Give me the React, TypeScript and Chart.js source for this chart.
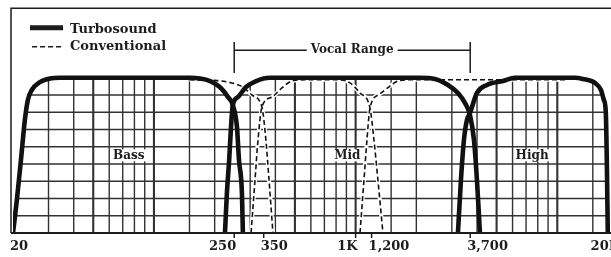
import React, { useEffect, useRef } from 'react';
import { Chart, registerables } from 'chart.js';
Chart.register(...registerables);

// Turbosound band responses (frequency Hz, relative level)
const bassFreq = [20, 20.9, 21.9, 22.9, 23.7, 24.8, 27.2, 30.5, 34.2, 151, 169, 190, 212, 233, 246, 258, 264, 273, 276];
const bassLevel = [0, 1.91, 4.23, 6.55, 7.71, 8.29, 8.75, 8.96, 9, 9, 8.96, 8.81, 8.46, 7.88, 7.42, 6.14, 4.23, 2.32, 0];
const midFreq = [225, 230, 236, 241, 246, 261, 286, 321, 376, 2084, 2474, 2870, 3216, 3484, 3690, 3862, 3996, 4134];
const midLevel = [0, 2.32, 4.23, 6.14, 7.42, 7.88, 8.46, 8.81, 9, 9, 8.93, 8.58, 8.12, 7.54, 6.84, 5.39, 3.07, 0];
const highFreq = [3216, 3328, 3444, 3564, 3690, 3996, 4478, 5376, 6166, 12230, 13398, 15370, 16460, 17020, 17400, 17600, 17800];
const highLevel = [0, 3.07, 5.39, 6.55, 6.96, 8.12, 8.58, 8.81, 9, 9, 8.93, 8.7, 8.29, 7.71, 7.0, 4.2, 0];

// Conventional crossover responses
const convBassFreq = [150, 200, 238, 276, 306, 343, 359, 372, 389];
const convBassLevel = [8.88, 8.85, 8.72, 8.46, 8.0, 7.3, 5.39, 3.07, 0];
const convMidFreq = [303, 317, 328, 343, 385, 431, 483, 561, 836, 937, 1051, 1178, 1233, 1290, 1366];
const convMidLevel = [0, 3.07, 5.39, 7.3, 7.88, 8.41, 8.81, 8.88, 8.88, 8.7, 8.12, 7.25, 5.39, 3.07, 0];
const convHighFreq = [1051, 1100, 1138, 1178, 1320, 1480, 1622, 1859, 11000];
const convHighLevel = [0, 3.07, 5.39, 7.25, 8.06, 8.52, 8.81, 8.88, 8.88];

// Axis ticks
const tickFreqs = [20, 250, 350, 1000, 1200, 3700, 20000];
const tickLabels = ['20', '250', '350', '1K', '1,200', '3,700', '20K'];
const tickAlign: CanvasTextAlign[] = ['left', 'right', 'left', 'right', 'left', 'left', 'right'];
const tickMarked = [false, true, true, true, true, true, false];

// Grid
const gridFreqs = [30, 40, 50, 60, 70, 80, 90, 100, 150, 200, 300, 400, 500, 600, 700, 800, 900, 1000, 1500, 2000, 3000, 4000, 5000, 6000, 7000, 8000, 9000, 10000, 15000];
const majorGridFreqs = [50, 100, 500, 1000, 5000, 10000];
const gridLevels = [1, 2, 3, 4, 5, 6, 7, 8];

// Band labels
const bandNames = ['Bass', 'Mid', 'High'];
const bandFreqs = [75, 910, 7500];
const bandLevel = 4.5;

// Vocal range bracket
const vocalRange = [250, 3700];
const vocalLabel = 'Vocal Range';
const vocalBarLevels = [9.28, 11.07];
const vocalLineLevel = 10.6;

// Legend
const legendNames = ['Turbosound', 'Conventional'];

const FONT = "'DejaVu Serif', serif";
const INK = '#1c1c1c';

const pts = (xs: number[], ys: number[]) => xs.map((x, i) => ({ x, y: ys[i] }));

const turboIdx = [3, 4, 5];

const decorPlugin = {
  id: 'decor',
  beforeDraw(chart: any) {
    const { ctx, width, height } = chart;
    ctx.save();
    ctx.fillStyle = '#fff';
    ctx.fillRect(0, 0, width, height);
    ctx.restore();
  },
  beforeDatasetsDraw(chart: any) {
    const { ctx, chartArea, scales } = chart;
    const x = scales.x, y = scales.y;
    const base = y.getPixelForValue(0);
    ctx.save();
    ctx.beginPath();
    turboIdx.forEach((i) => {
      const meta = chart.getDatasetMeta(i);
      if (meta.dataset && meta.dataset.updateControlPoints) meta.dataset.updateControlPoints(chartArea, 'x');
      const p = meta.data;
      ctx.moveTo(p[0].x, base);
      ctx.lineTo(p[0].x, p[0].y);
      for (let k = 1; k < p.length; k++) {
        const a = p[k - 1], b = p[k];
        if (a.cp2x !== undefined && b.cp1x !== undefined) ctx.bezierCurveTo(a.cp2x, a.cp2y, b.cp1x, b.cp1y, b.x, b.y);
        else ctx.lineTo(b.x, b.y);
      }
      ctx.lineTo(p[p.length - 1].x, base);
      ctx.closePath();
    });
    ctx.clip();
    ctx.strokeStyle = '#333';
    gridFreqs.forEach((f) => {
      const px = x.getPixelForValue(f);
      ctx.lineWidth = majorGridFreqs.includes(f) ? 2.1 : 1.4;
      ctx.beginPath();
      ctx.moveTo(px, chartArea.top);
      ctx.lineTo(px, base);
      ctx.stroke();
    });
    ctx.lineWidth = 1.4;
    gridLevels.forEach((l) => {
      const py = y.getPixelForValue(l);
      ctx.beginPath();
      ctx.moveTo(chartArea.left, py);
      ctx.lineTo(chartArea.right, py);
      ctx.stroke();
    });
    ctx.restore();
  },
  afterDatasetsDraw(chart: any) {
    const { ctx, chartArea, scales, width } = chart;
    const x = scales.x, y = scales.y;
    const base = y.getPixelForValue(0);
    const frameL = chartArea.left - 2;
    const frameT = y.getPixelForValue(13) - 0.5;
    ctx.save();
    ctx.strokeStyle = INK;
    ctx.fillStyle = INK;

    // frame
    ctx.lineWidth = 1.5;
    ctx.beginPath();
    ctx.moveTo(frameL, base);
    ctx.lineTo(frameL, frameT);
    ctx.lineTo(width, frameT);
    ctx.stroke();

    // baseline
    ctx.lineWidth = 2.2;
    ctx.beginPath();
    ctx.moveTo(frameL, base);
    ctx.lineTo(width, base);
    ctx.stroke();

    // ticks + labels
    ctx.font = `bold 13px ${FONT}`;
    ctx.textBaseline = 'middle';
    tickFreqs.forEach((f, i) => {
      const px = x.getPixelForValue(f);
      if (tickMarked[i]) {
        ctx.lineWidth = 1.5;
        ctx.beginPath();
        ctx.moveTo(px, base);
        ctx.lineTo(px, base + 5);
        ctx.stroke();
      }
      ctx.textAlign = tickAlign[i];
      const tx = tickAlign[i] === 'left' ? px - 3 : px + 2;
      ctx.fillText(tickLabels[i], tx, base + 13.5);
    });

    // band labels
    ctx.font = `bold 12px ${FONT}`;
    ctx.textAlign = 'center';
    bandNames.forEach((name, i) => {
      const px = x.getPixelForValue(bandFreqs[i]);
      const py = y.getPixelForValue(bandLevel);
      const w = ctx.measureText(name).width;
      ctx.fillStyle = '#fff';
      ctx.fillRect(px - w / 2 - 1.5, py - 6, w + 3, 12);
      ctx.fillStyle = INK;
      ctx.fillText(name, px, py);
    });

    // vocal range bracket
    const vx0 = x.getPixelForValue(vocalRange[0]);
    const vx1 = x.getPixelForValue(vocalRange[1]);
    const vy0 = y.getPixelForValue(vocalBarLevels[0]);
    const vy1 = y.getPixelForValue(vocalBarLevels[1]);
    const vl = y.getPixelForValue(vocalLineLevel);
    const vmid = (vx0 + vx1) / 2;
    const vw = ctx.measureText(vocalLabel).width;
    ctx.lineWidth = 1.5;
    ctx.beginPath();
    ctx.moveTo(vx0, vy0); ctx.lineTo(vx0, vy1);
    ctx.moveTo(vx1, vy0); ctx.lineTo(vx1, vy1);
    ctx.moveTo(vx0, vl); ctx.lineTo(vmid - vw / 2 - 4, vl);
    ctx.moveTo(vmid + vw / 2 + 4, vl); ctx.lineTo(vx1, vl);
    ctx.stroke();
    ctx.fillText(vocalLabel, vmid, vl);

    // legend
    const lx = chartArea.left + 17;
    const ly = chartArea.top + 19;
    ctx.lineWidth = 5;
    ctx.beginPath();
    ctx.moveTo(lx, ly); ctx.lineTo(lx + 33, ly);
    ctx.stroke();
    ctx.lineWidth = 1.6;
    ctx.setLineDash([5, 3]);
    ctx.beginPath();
    ctx.moveTo(lx + 2, ly + 19); ctx.lineTo(lx + 33, ly + 19);
    ctx.stroke();
    ctx.setLineDash([]);
    ctx.font = `bold 13px ${FONT}`;
    ctx.textAlign = 'left';
    ctx.fillText(legendNames[0], lx + 40, ly + 2);
    ctx.fillText(legendNames[1], lx + 40, ly + 18.5);
    ctx.restore();
  },
};

export default function App() {
  const ref = useRef<HTMLCanvasElement | null>(null);
  useEffect(() => {
    if (!ref.current) return;
    const common = { pointRadius: 0, cubicInterpolationMode: 'monotone' as const, fill: false };
    const convSets = [
      pts(convBassFreq, convBassLevel),
      pts(convMidFreq, convMidLevel),
      pts(convHighFreq, convHighLevel),
    ];
    const turboSets = [pts(bassFreq, bassLevel), pts(midFreq, midLevel), pts(highFreq, highLevel)];
    const chart = new Chart(ref.current, {
      type: 'line',
      data: {
        datasets: [
          ...convSets.map((d) => ({ ...common, data: d, borderColor: '#fff', borderWidth: 4, order: 3 })),
          ...turboSets.map((d) => ({ ...common, label: 'Turbosound', data: d, borderColor: '#111', borderWidth: 4.6, order: 2, borderCapStyle: 'round' as const, borderJoinStyle: 'round' as const })),
          ...convSets.map((d) => ({ ...common, label: 'Conventional', data: d, borderColor: '#111', borderWidth: 1.6, borderDash: [5, 3], order: 1 })),
        ],
      },
      options: {
        responsive: false,
        maintainAspectRatio: false,
        animation: false,
        events: [],
        layout: { padding: { left: 13, right: 42, top: 8.75, bottom: 24 } },
        scales: {
          x: { type: 'logarithmic', min: 20, max: 20000, display: false },
          y: { type: 'linear', min: 0, max: 13, display: false },
        },
        plugins: { legend: { display: false }, tooltip: { enabled: false } },
      },
      plugins: [decorPlugin],
    });
    return () => chart.destroy();
  }, []);
  return (
    <div style={{ position: 'fixed', left: 0, top: 0, width: 611, height: 257, overflow: 'hidden', background: '#fff' }}>
      <canvas ref={ref} width={660} height={257} style={{ display: 'block' }} />
    </div>
  );
}
